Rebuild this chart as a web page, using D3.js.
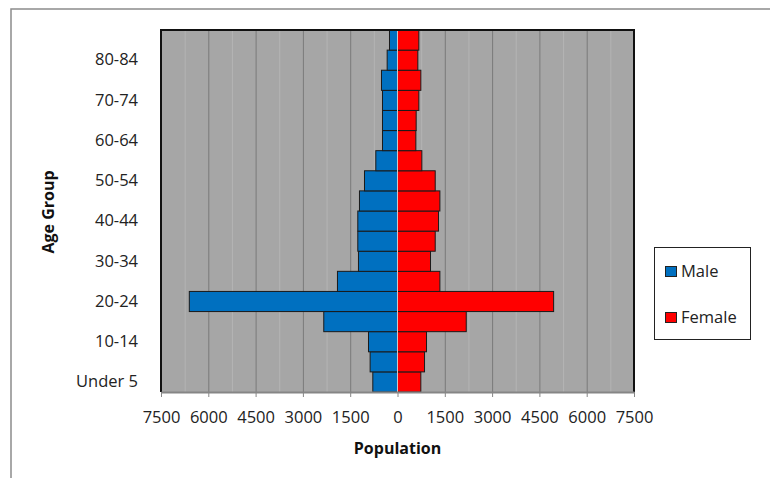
<!DOCTYPE html>
<html lang="en">
<head>
<meta charset="UTF-8">
<title>Population Pyramid</title>
<style>
  * { margin: 0; padding: 0; }
  body { background: #fff; width: 770px; height: 478px; overflow: hidden; font-family: 'Open Sans', sans-serif; }
  svg { display: block; }
</style>
</head>
<body>
<svg width="770" height="478"></svg>
<script src="https://cdn.jsdelivr.net/npm/d3@7/dist/d3.min.js"></script>
<script>
// Age groups, bottom to top
const ageGroups = ['Under 5', '5-9', '10-14', '15-19', '20-24', '25-29', '30-34', '35-39', '40-44',
  '45-49', '50-54', '55-59', '60-64', '65-69', '70-74', '75-79', '80-84', '85+'];
const male = [783, 868, 920, 2338, 6602, 1904, 1238, 1259, 1259, 1206, 1047, 688, 476, 476, 476, 508, 328, 254];
const female = [741, 857, 920, 2180, 4951, 1344, 1047, 1196, 1301, 1344, 1196, 772, 582, 592, 677, 741, 645, 677];
const xTicks = [-7500, -6000, -4500, -3000, -1500, 0, 1500, 3000, 4500, 6000, 7500];
const gridMinor = [-6750, -5250, -3750, -2250, -750, 750, 2250, 3750, 5250, 6750];
const yLabels = ['Under 5', '10-14', '20-24', '30-34', '40-44', '50-54', '60-64', '70-74', '80-84'];
const series = ['Male', 'Female'];
const colors = ['#0070c0', '#ff0000'];

const svg = d3.select('svg');
const plot = { left: 161, right: 634, top: 30, bottom: 392 };

// outer chart frame
svg.append('rect')
  .attr('x', 11).attr('y', 9).attr('width', 800).attr('height', 500)
  .attr('fill', 'none').attr('stroke', '#8c8c8c').attr('stroke-width', 1.5);

const x = d3.scaleLinear().domain([-7500, 7500]).range([plot.left, plot.right]);
const y = d3.scaleBand().domain(ageGroups).range([plot.bottom, plot.top]).padding(0);

// plot background
svg.append('rect')
  .attr('x', plot.left).attr('y', plot.top)
  .attr('width', plot.right - plot.left).attr('height', plot.bottom - plot.top)
  .attr('fill', '#a6a6a6');

// gridlines
svg.append('g').selectAll('line')
  .data(gridMinor)
  .join('line')
  .attr('x1', d => x(d) + 0.5).attr('x2', d => x(d) + 0.5)
  .attr('y1', plot.top).attr('y2', plot.bottom)
  .attr('stroke', '#b4b4b4').attr('stroke-width', 1);

svg.append('g').selectAll('line')
  .data(xTicks.filter(d => Math.abs(d) < 7500 && d !== 0))
  .join('line')
  .attr('x1', d => x(d) + 0.5).attr('x2', d => x(d) + 0.5)
  .attr('y1', plot.top).attr('y2', plot.bottom)
  .attr('stroke', '#7a7a7a').attr('stroke-width', 1);

// bars
const barG = svg.append('g');
barG.selectAll('rect.male')
  .data(ageGroups)
  .join('rect')
  .attr('class', 'male')
  .attr('x', (d, i) => x(-male[i]))
  .attr('y', d => y(d))
  .attr('width', (d, i) => x(0) - x(-male[i]))
  .attr('height', y.bandwidth())
  .attr('fill', colors[0])
  .attr('stroke', '#1a1a1a').attr('stroke-width', 1);

barG.selectAll('rect.female')
  .data(ageGroups)
  .join('rect')
  .attr('class', 'female')
  .attr('x', x(0))
  .attr('y', d => y(d))
  .attr('width', (d, i) => x(female[i]) - x(0))
  .attr('height', y.bandwidth())
  .attr('fill', colors[1])
  .attr('stroke', '#1a1a1a').attr('stroke-width', 1);

// zero line
svg.append('line')
  .attr('x1', x(0)).attr('x2', x(0))
  .attr('y1', plot.top).attr('y2', plot.bottom)
  .attr('stroke', '#c8c8c8').attr('stroke-width', 1);

// plot border: black top/left/right, gray bottom axis
svg.append('path')
  .attr('d', `M${plot.left},${plot.bottom}V${plot.top}H${plot.right}V${plot.bottom}`)
  .attr('fill', 'none').attr('stroke', '#111').attr('stroke-width', 2);

// x axis
const xAxis = d3.axisBottom(x)
  .tickValues(xTicks)
  .tickSize(5)
  .tickSizeOuter(0)
  .tickPadding(14)
  .tickFormat(d => Math.abs(d));

const gx = svg.append('g')
  .attr('transform', `translate(0,${plot.bottom})`)
  .call(xAxis);
gx.select('.domain').attr('stroke', '#868686').attr('stroke-width', 2);
gx.selectAll('.tick line').attr('stroke', '#868686');
gx.selectAll('.tick text')
  .attr('font-family', "'Open Sans', sans-serif")
  .attr('font-size', 16.5)
  .attr('fill', '#222');

// y axis labels (every other group)
const yAxis = d3.axisLeft(y)
  .tickValues(yLabels)
  .tickSize(0)
  .tickPadding(23);

const gy = svg.append('g')
  .attr('transform', `translate(${plot.left},0)`)
  .call(yAxis);
gy.select('.domain').remove();
gy.selectAll('.tick text')
  .attr('font-family', "'Open Sans', sans-serif")
  .attr('font-size', 16.5)
  .attr('fill', '#222');

// axis titles
svg.append('text')
  .attr('x', x(0)).attr('y', 454)
  .attr('text-anchor', 'middle')
  .attr('font-size', 16).attr('font-weight', 'bold').attr('fill', '#111')
  .text('Population');

svg.append('text')
  .attr('transform', 'translate(54,212) rotate(-90)')
  .attr('text-anchor', 'middle')
  .attr('font-size', 16).attr('font-weight', 'bold').attr('fill', '#111')
  .text('Age Group');

// legend
const legend = svg.append('g');
legend.append('rect')
  .attr('x', 654.5).attr('y', 247.5).attr('width', 96).attr('height', 92)
  .attr('fill', '#fff').attr('stroke', '#222').attr('stroke-width', 1);

const item = legend.selectAll('g.item')
  .data(series)
  .join('g')
  .attr('class', 'item')
  .attr('transform', (d, i) => `translate(665,${266 + i * 46})`);
item.append('rect')
  .attr('x', 0.5).attr('y', 0.5).attr('width', 11).attr('height', 10)
  .attr('fill', (d, i) => colors[i])
  .attr('stroke', '#222').attr('stroke-width', 1);
item.append('text')
  .attr('x', 16).attr('y', 5)
  .attr('dy', '0.35em')
  .attr('font-size', 16.5).attr('fill', '#222')
  .text(d => d);
</script>
</body>
</html>
